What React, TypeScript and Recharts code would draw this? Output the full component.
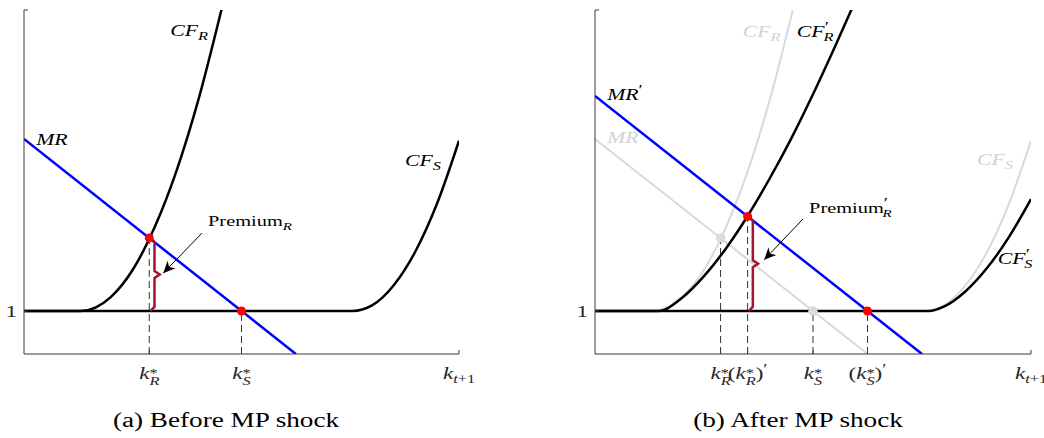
import React from 'react';
import { LineChart, Line, XAxis, YAxis, ReferenceLine, ReferenceDot } from 'recharts';

// ---------- data ----------
// Panel (a): before the MP shock
const mrA = [{ x: 0, y: 5 }, { x: 6.25, y: 0 }];
const cfRA = [
  { x: 0, y: 1 }, { x: 1.3, y: 1 }, { x: 2.0, y: 1.33 }, { x: 2.5, y: 1.96 },
  { x: 3.0, y: 2.94 }, { x: 3.5, y: 4.24 }, { x: 4.0, y: 5.88 }, { x: 4.55, y: 8.05 },
];
const cfSA = [
  { x: 0, y: 1 }, { x: 7.55, y: 1 }, { x: 8.0, y: 1.13 }, { x: 8.5, y: 1.6 },
  { x: 9.0, y: 2.39 }, { x: 9.5, y: 3.51 }, { x: 10, y: 4.96 },
];
// Panel (b): after the MP shock
const mrB = [{ x: 0, y: 6 }, { x: 7.5, y: 0 }];
const cfRB = [
  { x: 0, y: 1 }, { x: 1.45, y: 1 }, { x: 2.0, y: 1.31 }, { x: 2.5, y: 1.81 },
  { x: 3.0, y: 2.45 }, { x: 3.5, y: 3.21 }, { x: 4.0, y: 4.07 }, { x: 4.5, y: 5.01 },
  { x: 5.0, y: 6.04 }, { x: 5.5, y: 7.14 }, { x: 5.9, y: 8.05 },
];
const cfSB = [
  { x: 0, y: 1 }, { x: 7.66, y: 1 }, { x: 8.0, y: 1.1 }, { x: 8.5, y: 1.46 },
  { x: 9.0, y: 2.01 }, { x: 9.5, y: 2.73 }, { x: 10, y: 3.6 },
];

// equilibrium points
const kR = 2.88; const yR = 2.7;
const kS = 5; const yS = 1;
const kR2 = 3.5; const yR2 = 3.2;
const kS2 = 6.25;
const KMAX = 10;

const ticksA = [kR, kS, KMAX];
const ticksB = [kR, kR2, kS, kS2, KMAX];
const ticksY = [1, 8];

// annotation anchors (data coords)
const arrowA = [{ x: 4.09, y: 2.81 }, { x: 3.2, y: 1.88 }];
const arrowB = [{ x: 4.77, y: 3.14 }, { x: 3.88, y: 2.19 }];

// ---------- styling ----------
const FONT = '"Liberation Serif", "Times New Roman", serif';
const SX = 1.36;
const AXIS = '#3a3a3a';
const TXT = '#262626';
const GRAY = '#d9d9d9';
const GRAYTXT = '#d2d2d2';
const BLUE = '#0000ff';
const RED = '#ff0000';
const CRIMSON = '#a2142f';

const brace = (k: number, top: number) => {
  const x0 = k + 0.03;
  const x1 = k + 0.12;
  const xt = k + 0.24;
  const mid = (1 + top) / 2;
  return [
    { x: x0, y: top }, { x: x1, y: top - 0.1 }, { x: x1, y: mid + 0.08 },
    { x: xt, y: mid }, { x: x1, y: mid - 0.08 }, { x: x1, y: 1.1 }, { x: x0, y: 1 },
  ];
};

type TP = { x: number; y: number; anchor?: 'start' | 'middle' | 'end'; size?: number; fill?: string; children: React.ReactNode };
function Txt({ x, y, anchor = 'start', size = 16, fill = '#000', children }: TP) {
  return (
    <g transform={`translate(${x},${y}) scale(${SX},1)`}>
      <text x={0} y={0} textAnchor={anchor} fontFamily={FONT} fontSize={size} fill={fill}>
        {children}
      </text>
    </g>
  );
}

const it = 'italic';
const CFsub = (s: string, prime: boolean) => (
  <>
    <tspan fontStyle={it}>CF</tspan>
    {prime ? <tspan fontSize={14} dy={-5}>′</tspan> : null}
    <tspan fontStyle={it} fontSize={12} dx={prime ? -4 : 0} dy={prime ? 9 : 4}>{s}</tspan>
  </>
);
const MRl = (prime: boolean) => (
  <>
    <tspan fontStyle={it}>MR</tspan>
    {prime ? <tspan fontSize={14} dy={-5}>′</tspan> : null}
  </>
);
const kStar = (s: string) => (
  <>
    <tspan fontStyle={it}>k</tspan>
    <tspan fontSize={12} dy={-2}>*</tspan>
    <tspan fontStyle={it} fontSize={12} dx={-6} dy={8}>{s}</tspan>
  </>
);
const kStarP = (s: string) => (
  <>
    <tspan>(</tspan>
    <tspan fontStyle={it}>k</tspan>
    <tspan fontSize={12} dy={-2}>*</tspan>
    <tspan fontStyle={it} fontSize={12} dx={-6} dy={8}>{s}</tspan>
    <tspan dy={-6}>)</tspan>
    <tspan fontSize={14} dy={-5}>′</tspan>
  </>
);
const kT = (
  <>
    <tspan fontStyle={it}>k</tspan>
    <tspan fontStyle={it} fontSize={12} dy={4}>t</tspan>
    <tspan fontSize={12}>+1</tspan>
  </>
);
const premium = (prime: boolean) => (
  <>
    <tspan>Premium</tspan>
    {prime ? <tspan fontSize={14} dy={-5}>′</tspan> : null}
    <tspan fontStyle={it} fontSize={11} dx={prime ? -4 : 0} dy={prime ? 9 : 4}>R</tspan>
  </>
);

const label = (content: React.ReactNode, fill = '#000', size = 16) => (p: any) => (
  <Txt x={p.cx} y={p.cy} fill={fill} size={size}>{content}</Txt>
);

const tickX = (labels: Map<number, React.ReactNode>) => (p: any) => {
  const v = p.payload?.value;
  const c = labels.get(v);
  if (!c) return <g />;
  return <Txt x={p.x} y={p.y + 29} anchor="middle" fill={TXT} size={17}>{c}</Txt>;
};
const tickY = (p: any) => {
  const v = p.payload?.value;
  if (v !== 1) return <g />;
  return <Txt x={p.x - 11} y={p.y + 6} anchor="end" fill={TXT} size={17}>1</Txt>;
};

const arrowDot = () => {
  let prev: [number, number] = [0, 0];
  return (p: any) => {
    if (p.index === 0) {
      prev = [p.cx, p.cy];
      return <g key={`a${p.index}`} />;
    }
    const ang = (Math.atan2(p.cy - prev[1], p.cx - prev[0]) * 180) / Math.PI;
    return (
      <path
        key={`a${p.index}`}
        d="M0,0 L-12,-5.5 L-8.5,0 L-12,5.5 Z"
        fill="#000"
        transform={`translate(${p.cx},${p.cy}) rotate(${ang})`}
      />
    );
  };
};

const ticksLabelsA = new Map<number, React.ReactNode>([
  [kR, kStar('R')], [kS, kStar('S')], [KMAX, kT],
]);
const ticksLabelsB = new Map<number, React.ReactNode>([
  [kR, kStar('R')], [kR2, kStarP('R')], [kS, kStar('S')], [kS2, kStarP('S')], [KMAX, kT],
]);

const dash = { stroke: '#333', strokeWidth: 1, strokeDasharray: '7 4' };

export default function App() {
  return (
    <div style={{ position: 'absolute', left: 0, top: 0, width: 1044, height: 438, background: '#fff' }}>
      <div style={{ position: 'absolute', left: 0, top: 0 }}>
        <LineChart width={480} height={400} margin={{ top: 10, right: 21, bottom: 0, left: 0 }}>
          <XAxis type="number" dataKey="x" domain={[0, KMAX]} allowDataOverflow ticks={ticksA} interval={0}
            tickSize={-4} tickMargin={0} height={46} stroke={AXIS} tick={tickX(ticksLabelsA)} />
          <YAxis type="number" dataKey="y" domain={[0, 8]} allowDataOverflow ticks={ticksY} interval={0}
            tickSize={-4} tickMargin={0} width={24} stroke={AXIS} tick={tickY} />
          <ReferenceLine segment={[{ x: kR, y: 0 }, { x: kR, y: yR }]} {...dash} />
          <ReferenceLine segment={[{ x: kS, y: 0 }, { x: kS, y: yS }]} {...dash} />
          <Line data={cfSA} dataKey="y" type="monotone" stroke="#000" strokeWidth={2.5} dot={false} isAnimationActive={false} />
          <Line data={cfRA} dataKey="y" type="monotone" stroke="#000" strokeWidth={2.5} dot={false} isAnimationActive={false} />
          <Line data={mrA} dataKey="y" type="linear" stroke={BLUE} strokeWidth={2.5} dot={false} isAnimationActive={false} />
          <Line data={brace(kR, yR)} dataKey="y" type="linear" stroke={CRIMSON} strokeWidth={2.5} dot={false} isAnimationActive={false} />
          <Line data={arrowA} dataKey="y" type="linear" stroke="#000" strokeWidth={1} dot={arrowDot()} isAnimationActive={false} />
          <ReferenceDot x={kR} y={yR} r={4.5} fill={RED} stroke="none" />
          <ReferenceDot x={kS} y={yS} r={4.5} fill={RED} stroke="none" />
          <ReferenceDot x={3.36} y={7.4} r={0} shape={label(CFsub('R', false))} />
          <ReferenceDot x={0.28} y={4.86} r={0} shape={label(MRl(false))} />
          <ReferenceDot x={8.76} y={4.37} r={0} shape={label(CFsub('S', false))} />
          <ReferenceDot x={4.23} y={2.98} r={0} shape={label(premium(false), '#000', 15)} />
        </LineChart>
      </div>
      <div style={{ position: 'absolute', left: 571, top: 0 }}>
        <LineChart width={473} height={400} margin={{ top: 10, right: 13, bottom: 0, left: 0 }}>
          <XAxis type="number" dataKey="x" domain={[0, KMAX]} allowDataOverflow ticks={ticksB} interval={0}
            tickSize={-4} tickMargin={0} height={46} stroke={AXIS} tick={tickX(ticksLabelsB)} />
          <YAxis type="number" dataKey="y" domain={[0, 8]} allowDataOverflow ticks={ticksY} interval={0}
            tickSize={-4} tickMargin={0} width={24} stroke={AXIS} tick={tickY} />
          <ReferenceLine segment={[{ x: kR, y: 0 }, { x: kR, y: yR }]} {...dash} />
          <ReferenceLine segment={[{ x: kR2, y: 0 }, { x: kR2, y: yR2 }]} {...dash} />
          <ReferenceLine segment={[{ x: kS, y: 0 }, { x: kS, y: yS }]} {...dash} />
          <ReferenceLine segment={[{ x: kS2, y: 0 }, { x: kS2, y: yS }]} {...dash} />
          <Line data={cfSA} dataKey="y" type="monotone" stroke={GRAY} strokeWidth={2} dot={false} isAnimationActive={false} />
          <Line data={cfRA} dataKey="y" type="monotone" stroke={GRAY} strokeWidth={2} dot={false} isAnimationActive={false} />
          <Line data={mrA} dataKey="y" type="linear" stroke={GRAY} strokeWidth={2} dot={false} isAnimationActive={false} />
          <Line data={cfSB} dataKey="y" type="monotone" stroke="#000" strokeWidth={2.5} dot={false} isAnimationActive={false} />
          <Line data={cfRB} dataKey="y" type="monotone" stroke="#000" strokeWidth={2.5} dot={false} isAnimationActive={false} />
          <Line data={mrB} dataKey="y" type="linear" stroke={BLUE} strokeWidth={2.5} dot={false} isAnimationActive={false} />
          <Line data={brace(kR2, yR2)} dataKey="y" type="linear" stroke={CRIMSON} strokeWidth={2.5} dot={false} isAnimationActive={false} />
          <Line data={arrowB} dataKey="y" type="linear" stroke="#000" strokeWidth={1} dot={arrowDot()} isAnimationActive={false} />
          <ReferenceDot x={kR} y={yR} r={4.5} fill="#dcdcdc" stroke="#f2c4c4" strokeDasharray="2 2" />
          <ReferenceDot x={kS} y={yS} r={4.5} fill="#dcdcdc" stroke="#f2c4c4" strokeDasharray="2 2" />
          <ReferenceDot x={kR2} y={yR2} r={4.5} fill={RED} stroke="none" />
          <ReferenceDot x={kS2} y={yS} r={4.5} fill={RED} stroke="none" />
          <ReferenceDot x={3.39} y={7.37} r={0} shape={label(CFsub('R', false), GRAYTXT)} />
          <ReferenceDot x={4.63} y={7.37} r={0} shape={label(CFsub('R', true))} />
          <ReferenceDot x={0.28} y={5.9} r={0} shape={label(MRl(true))} />
          <ReferenceDot x={0.28} y={4.9} r={0} shape={label(MRl(false), GRAYTXT)} />
          <ReferenceDot x={8.76} y={4.4} r={0} shape={label(CFsub('S', false), GRAYTXT)} />
          <ReferenceDot x={9.24} y={2.1} r={0} shape={label(CFsub('S', true))} />
          <ReferenceDot x={4.91} y={3.28} r={0} shape={label(premium(true), '#000', 15)} />
        </LineChart>
      </div>
      <svg width={1044} height={438} style={{ position: 'absolute', left: 0, top: 0, pointerEvents: 'none' }}>
        <Txt x={226} y={427} anchor="middle" size={20} fill="#000">(a) Before MP shock</Txt>
        <Txt x={798} y={427} anchor="middle" size={20} fill="#000">(b) After MP shock</Txt>
      </svg>
    </div>
  );
}
